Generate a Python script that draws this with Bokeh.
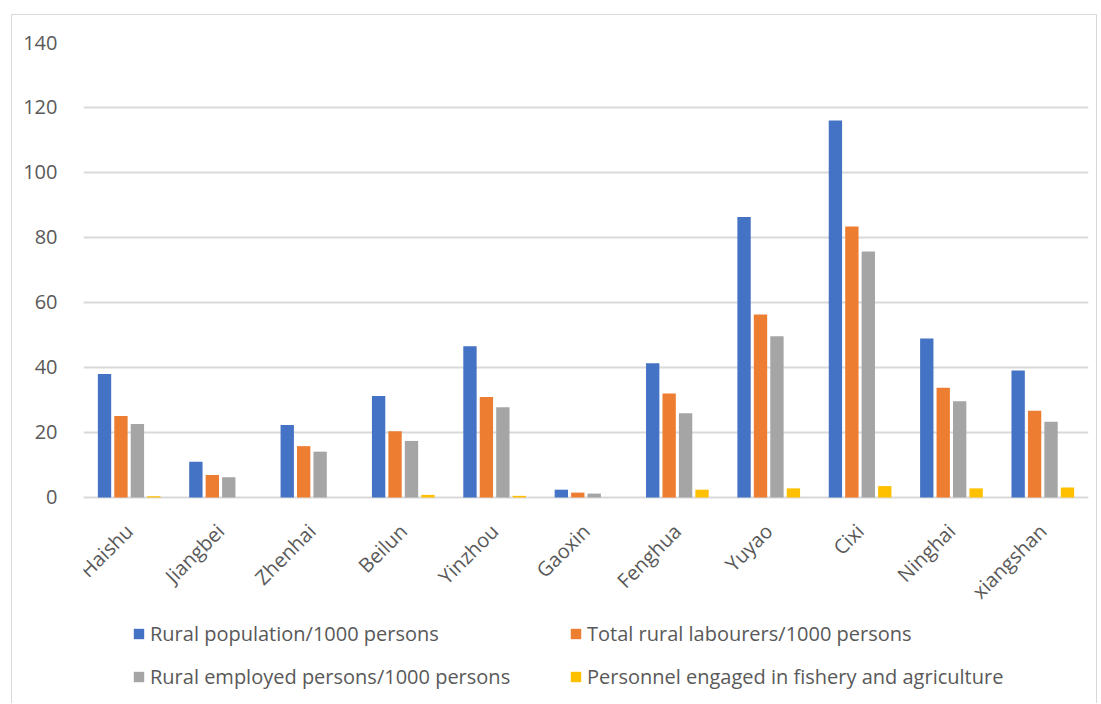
from math import pi

from bokeh.core.properties import value
from bokeh.embed import file_html
from bokeh.models import FactorRange, FixedTicker, Legend, LegendItem, Range1d
from bokeh.plotting import figure
from bokeh.resources import INLINE
from bokeh.transform import dodge

# Districts of Ningbo
districts = ["Haishu", "Jiangbei", "Zhenhai", "Beilun", "Yinzhou", "Gaoxin",
             "Fenghua", "Yuyao", "Cixi", "Ninghai", "xiangshan"]

rural_population = [38.0, 11.0, 22.3, 31.2, 46.5, 2.4, 41.3, 86.3, 116.0, 48.9, 39.1]
rural_labourers = [25.1, 6.9, 15.8, 20.4, 30.9, 1.5, 32.0, 56.3, 83.4, 33.8, 26.7]
rural_employed = [22.6, 6.2, 14.1, 17.4, 27.8, 1.2, 25.9, 49.6, 75.7, 29.6, 23.3]
fishery_agriculture = [0.4, 0.0, 0.0, 0.8, 0.5, 0.0, 2.4, 2.8, 3.5, 2.8, 3.1]

series_names = ["Rural population/1000 persons",
                "Total rural labourers/1000 persons",
                "Rural employed persons/1000 persons",
                "Personnel engaged in fishery and agriculture"]

y_ticks = [0, 20, 40, 60, 80, 100, 120, 140]

FONT = "Open Sans"
FONT_SIZE = "20px"
TEXT_COLOR = "#595959"
GRID_COLOR = "#D9D9D9"
colors = ["#4472C4", "#ED7D31", "#A5A5A5", "#FFC000"]

data = {"district": districts,
        "s0": rural_population,
        "s1": rural_labourers,
        "s2": rural_employed,
        "s3": fishery_agriculture}

# The frame runs down to the bottom of the canvas so that the category labels
# and the legend can sit beneath the zero line; only 0..140 carries grid lines.
Y_MAX = 140
Y_MIN = -63.7

p = figure(
    x_range=FactorRange(*districts, range_padding=0),
    y_range=Range1d(Y_MIN, Y_MAX),
    width=1086, height=689,
    min_border_left=71, min_border_right=10,
    min_border_top=27, min_border_bottom=0,
    x_axis_location=None,
    output_backend="svg", toolbar_location=None,
)
p.styles = {"margin-left": "11px", "margin-top": "14px",
            "border-left": f"1px solid {GRID_COLOR}",
            "border-top": f"1px solid {GRID_COLOR}",
            "border-right": f"1px solid {GRID_COLOR}"}
p.outline_line_color = None
p.background_fill_color = "white"
p.border_fill_color = "white"

offsets = [-0.27, -0.09, 0.09, 0.27]
renderers = []
for i, off in enumerate(offsets):
    r = p.vbar(x=dodge("district", off, range=p.x_range), top=f"s{i}",
               width=0.146, source=data, fill_color=colors[i], line_color=None)
    renderers.append(r)

# y axis: labels only
p.yaxis.ticker = FixedTicker(ticks=y_ticks)
p.yaxis.axis_line_color = None
p.yaxis.major_tick_line_color = None
p.yaxis.minor_tick_line_color = None
p.yaxis.major_label_standoff = 20
p.yaxis.major_label_text_font = FONT
p.yaxis.major_label_text_font_size = FONT_SIZE
p.yaxis.major_label_text_color = TEXT_COLOR

p.xgrid.grid_line_color = None
p.ygrid.ticker = FixedTicker(ticks=y_ticks)
p.ygrid.grid_line_color = GRID_COLOR
p.ygrid.grid_line_width = 2

# slanted category labels under the zero line
p.text(x=districts, y=[0] * len(districts), text=districts,
       angle=pi / 4, text_align="right", text_baseline="middle",
       x_offset=0, y_offset=30,
       text_font=value(FONT), text_font_size=FONT_SIZE, text_color=TEXT_COLOR)

# legend: two rows of two entries
rows = [[0, 1], [2, 3]]
row_bottoms = [49.5, 6.5]
for row, bottom in zip(rows, row_bottoms):
    items = [LegendItem(label=series_names[i], renderers=[renderers[i]]) for i in row]
    lg = Legend(items=items, location=(49, bottom), orientation="horizontal",
                padding=0, margin=0, spacing=0,
                glyph_width=13, glyph_height=13, label_standoff=5,
                label_width=419, label_height=43,
                label_text_font=FONT, label_text_font_size=FONT_SIZE,
                label_text_color=TEXT_COLOR,
                border_line_color=None, background_fill_alpha=0)
    p.add_layout(lg, "center")

open("out.html", "w").write(file_html(p, INLINE))
